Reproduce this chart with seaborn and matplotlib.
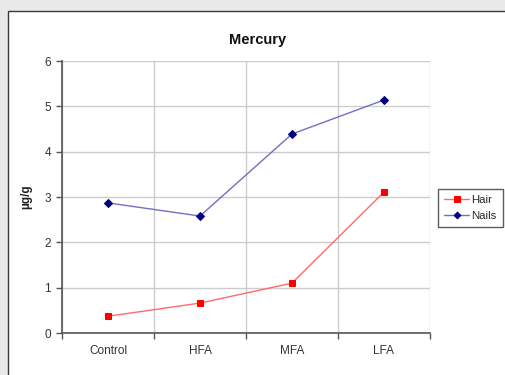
import matplotlib
matplotlib.use("Agg")
import matplotlib.pyplot as plt
from matplotlib.patches import Rectangle
from matplotlib.ticker import FixedLocator
import numpy as np
import pandas as pd
import seaborn as sns

groups = ["Control", "HFA", "MFA", "LFA"]
hair = [0.37, 0.66, 1.10, 3.11]
nails = [2.87, 2.58, 4.39, 5.14]
y_ticks = [0, 1, 2, 3, 4, 5, 6]

df = pd.DataFrame({
    "group": groups * 2,
    "pos": list(range(len(groups))) * 2,
    "value": hair + nails,
    "series": ["Hair"] * len(groups) + ["Nails"] * len(groups),
})

sns.set_theme(style="white")
plt.rcParams["font.family"] = ["Liberation Sans Narrow", "Liberation Sans", "DejaVu Sans"]

fig = plt.figure(figsize=(5.05, 3.75), dpi=100)
fig.patch.set_facecolor("#e9e9e9")

# white chart panel with dark frame, kept behind the axes
panel = Rectangle((8 / 505, -0.05), 1.2, 1 - 11 / 375 + 0.05, transform=fig.transFigure,
                  facecolor="white", edgecolor="#3a3a3a", linewidth=1.0, zorder=-10)
fig.add_artist(panel)

ax = fig.add_axes([62 / 505, 1 - 333 / 375, (430 - 62) / 505, (333 - 61) / 375])
ax.set_zorder(1)
ax.set_facecolor("white")

line_colors = {"Hair": "#ff6b6b", "Nails": "#6f6fc4"}
marker_colors = {"Hair": "#ff0000", "Nails": "#000080"}
markers = {"Hair": "s", "Nails": "D"}
msize = {"Hair": 4.5, "Nails": 4}

for name in ["Hair", "Nails"]:
    sub = df[df["series"] == name]
    sns.lineplot(data=sub, x="pos", y="value", ax=ax, color=line_colors[name],
                 linewidth=1.0, marker=markers[name], markersize=msize[name],
                 markerfacecolor=marker_colors[name], markeredgecolor=marker_colors[name],
                 label=name, zorder=3)

ax.set_xlim(-0.5, len(groups) - 0.5)
ax.set_ylim(0, 6)
ax.set_yticks(y_ticks)
ax.set_xticks(range(len(groups)))
ax.set_xticklabels(groups)
ax.xaxis.set_minor_locator(FixedLocator(np.arange(-0.5, len(groups), 1.0)))

ax.grid(False)
ax.yaxis.grid(True, color="#cccccc", linewidth=1.0)
ax.xaxis.grid(True, which="minor", color="#cccccc", linewidth=1.0)
ax.set_axisbelow(True)

for s in ["top", "right"]:
    ax.spines[s].set_visible(False)
for s in ["left", "bottom"]:
    ax.spines[s].set_color("#555555")
    ax.spines[s].set_linewidth(1.2)

ax.tick_params(axis="x", which="major", length=0, pad=9, labelsize=8.5, colors="#333333")
ax.tick_params(axis="x", which="minor", length=4, width=1, color="#555555", direction="out",
               bottom=True)
ax.tick_params(axis="y", length=4, width=1, color="#555555", direction="out",
               labelsize=8.5, labelcolor="#333333", left=True, pad=4)

ax.set_xlabel("")
ax.set_ylabel("µg/g", fontsize=8.5, fontweight="bold", color="#222222", labelpad=9)

fig.text(258 / 505, 1 - 40 / 375, "Mercury", ha="center", va="center",
         fontsize=10.5, fontweight="bold", color="#111111")

leg = ax.legend(loc="center left", bbox_to_anchor=(438 / 505, 1 - 208 / 375),
                bbox_transform=fig.transFigure, frameon=True, fancybox=False,
                fontsize=8.2, handlelength=2.2, handletextpad=0.15, borderpad=0.55,
                labelspacing=0.55, borderaxespad=0, markerscale=0.85)
leg.get_frame().set_edgecolor("#333333")
leg.get_frame().set_linewidth(1.0)

fig.savefig("out.png", dpi=100, facecolor=fig.get_facecolor())
